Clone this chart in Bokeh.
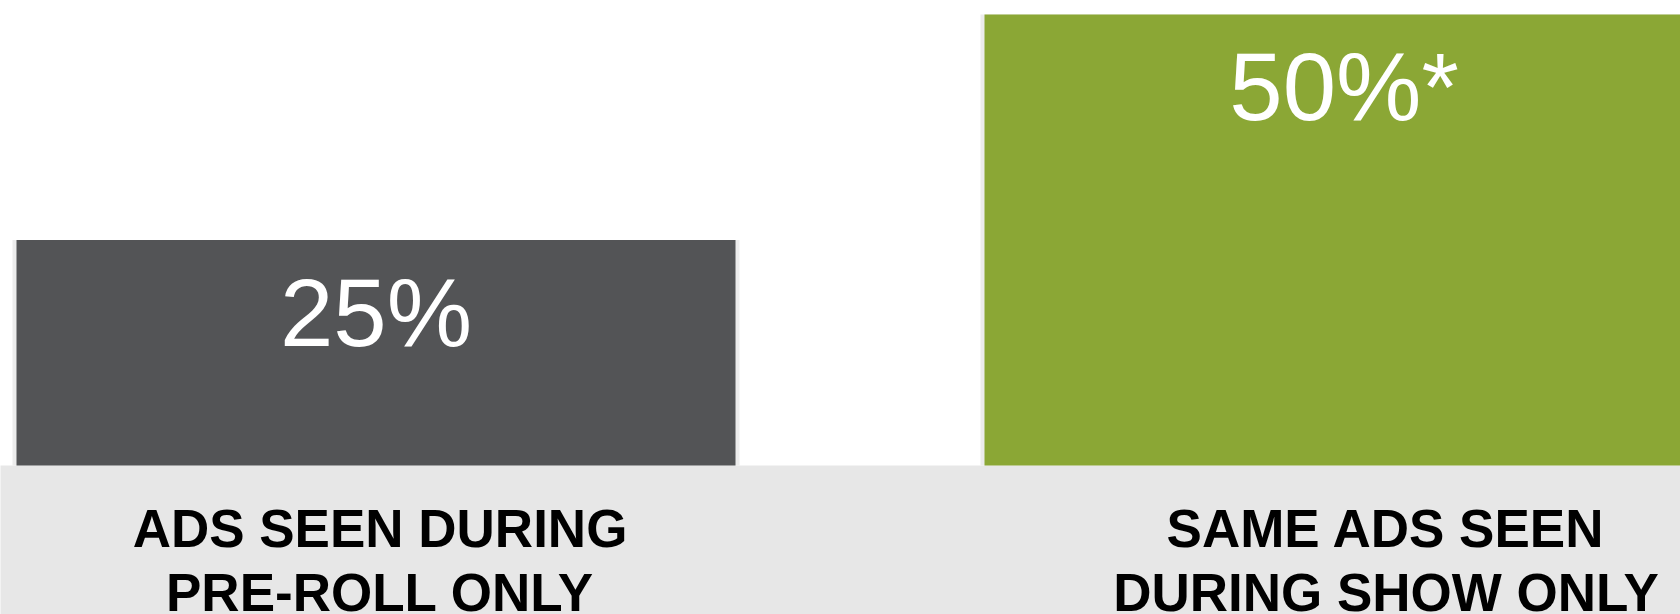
from bokeh.plotting import figure
from bokeh.models import Range1d, ColumnDataSource
from bokeh.core.properties import value
from bokeh.embed import file_html
from bokeh.resources import INLINE

# ---- data ----
categories = ["ADS SEEN DURING\nPRE-ROLL ONLY", "SAME ADS SEEN\nDURING SHOW ONLY"]
values = [25, 50]
value_labels = ["25%", "50%*"]
bar_colors = ["#535456", "#8BA735"]

# ---- layout ----
W, H = 1680, 614
px_per_cat = 968.0
first_center_px = 375.5
px_per_unit = 9.02
base_px_from_bottom = 149.0

x0 = -first_center_px / px_per_cat
x1 = x0 + W / px_per_cat
y0 = -base_px_from_bottom / px_per_unit
y1 = y0 + H / px_per_unit

xs = list(range(len(categories)))
line1 = [c.split("\n")[0] for c in categories]
line2 = [c.split("\n")[1] for c in categories]
label_dx = [4, 42]

src = ColumnDataSource(dict(x=xs, top=values, color=bar_colors, lab=value_labels,
                            l1=line1, l2=line2, dx=label_dx, base=[0] * len(xs)))

p = figure(width=W, height=H, output_backend="svg", toolbar_location=None,
           x_range=Range1d(x0, x1), y_range=Range1d(y0, y1),
           x_axis_location=None, y_axis_location=None, min_border=0,
           min_border_left=0, min_border_right=0, min_border_top=0, min_border_bottom=0)
p.outline_line_color = None
p.grid.visible = False
p.background_fill_color = "white"
p.border_fill_color = "white"

# textured grey band below the baseline
p.quad(left=x0 - 1, right=x1 + 1, top=0, bottom=y0 - 1,
       fill_color="#E7E7E7", line_color=None,
       hatch_pattern="v_line", hatch_color="#F2F2F2", hatch_alpha=1.0,
       hatch_scale=6, hatch_weight=2)

bar_w = 719.0 / px_per_cat
# faint shadow
p.vbar(x="x", top="top", bottom=0, width=bar_w + 8.0 / px_per_cat, source=src,
       fill_color="#ECECEC", line_color=None)
p.vbar(x="x", top="top", bottom=0, width=bar_w, source=src,
       fill_color="color", line_color=None)

p.text(x="x", y="top", text="lab", source=src, y_offset=72,
       text_align="center", text_baseline="alphabetic",
       text_font=value("Liberation Sans"), text_font_size="96px", text_color="white")

p.text(x="x", y="base", text="l1", source=src, x_offset="dx", y_offset=63,
       text_align="center", text_baseline="alphabetic",
       text_font=value("Liberation Sans"), text_font_style="bold",
       text_font_size="53px", text_color="black")
p.text(x="x", y="base", text="l2", source=src, x_offset="dx", y_offset=127,
       text_align="center", text_baseline="alphabetic",
       text_font=value("Liberation Sans"), text_font_style="bold",
       text_font_size="53px", text_color="black")

open("out.html", "w").write(file_html(p, INLINE))
